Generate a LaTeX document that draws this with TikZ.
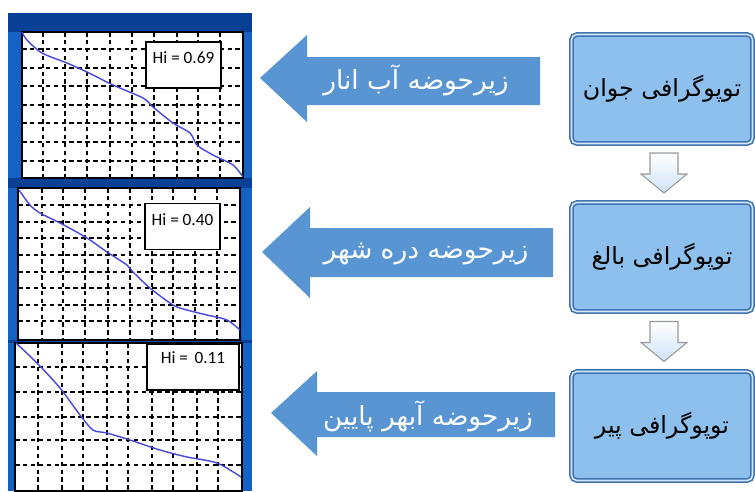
\documentclass[tikz,border=0pt]{standalone}
\usepackage{fontspec}
\setmainfont{Carlito}
\newfontfamily\arabicfont[Script=Arabic]{DejaVu Sans}
\TeXXeTstate=1
\usetikzlibrary{positioning,calc}
\definecolor{navy}{HTML}{0A3F96}
\definecolor{framebl}{HTML}{1463C4}
\definecolor{arrbl}{HTML}{5A95D3}
\definecolor{boxbl}{HTML}{8DC0EC}
\definecolor{boxedge}{HTML}{3F73B2}
\definecolor{curvebl}{HTML}{4848D8}
\definecolor{stepfill}{HTML}{CFE2F7}
\newcommand{\fa}[1]{\arabicfont\beginR #1\endR}

\begin{document}
\begin{tikzpicture}[x=0.02cm, y=-0.02cm,
  chartbg/.style={fill=white, draw=black, line width=0.6pt},
  gridline/.style={black, dashed, dash pattern=on 2.6pt off 1.9pt, line width=0.85pt},
  hicurve/.style={curvebl, line width=0.8pt},
  hibox/.style={draw=black, fill=white, line width=0.8pt, minimum width=1.5cm, minimum height=0.92cm, inner sep=0pt},
  hitext/.style={font=\fontsize{9.8}{11}\selectfont, inner sep=1pt},
  bigarrow/.style={fill=arrbl},
  arrtext/.style={text=white, font=\fontsize{15}{18}\selectfont},
  stage/.style={draw=boxedge, double=boxbl!40!white, double distance=0.9pt, line width=0.9pt,
    rounded corners=3pt, fill=boxbl, minimum width=3.62cm, minimum height=2.18cm,
    font=\fontsize{13.5}{16}\selectfont},
  steparrow/.style={top color=white, bottom color=stepfill, draw=gray!80, line width=0.6pt}]
  \useasboundingbox (0,0) rectangle (755,491);
  % left panel: three hypsometric curves
  \fill[framebl] (8,13) rectangle (252,491);
  \fill[navy] (8,13) rectangle (252,32);
  \fill[navy] (8,178) rectangle (252,188);
  \fill[navy] (8,340) rectangle (252,343);
  \draw[chartbg] (22,32) rectangle (243,178);
  \draw[chartbg] (18,188) rectangle (240,340);
  \draw[chartbg] (15,343) rectangle (242,491);
  \foreach \x in {43,65,87,110,132,154,177,198,220} {\draw[gridline] (\x,32) -- (\x,178);}
  \foreach \y in {49,68,86,105,123,142,161} {\draw[gridline] (22,\y) -- (243,\y);}
  \foreach \x in {42,63,85,108,130,152,173,195,217} {\draw[gridline] (\x,188) -- (\x,340);}
  \foreach \y in {205,222,238,255,272,288,305,321} {\draw[gridline] (18,\y) -- (240,\y);}
  \foreach \x in {38,62,83,107,128,152,173,197,218} {\draw[gridline] (\x,343) -- (\x,491);}
  \foreach \y in {367,392,417,440,465} {\draw[gridline] (15,\y) -- (242,\y);}
  \draw[hicurve] plot[smooth] coordinates {(22,32) (27,40) (42,53) (67,63) (87,72) (113,85) (143,98) (153,107)
    (173,123) (190,133) (197,145) (213,155) (233,165) (243,177)};
  \draw[hicurve] plot[smooth] coordinates {(19,190) (30,205) (40,213) (60,223) (87,238) (107,252) (127,265)
    (133,272) (150,288) (173,305) (187,310) (207,315) (227,320) (240,330)};
  \draw[hicurve] plot[smooth] coordinates {(16,343) (37,363) (60,388) (80,415) (93,430) (107,433) (130,440)
    (160,450) (187,457) (217,463) (241,477)};
  \node[hibox] (hiA) at (183.5,65) {};
  \node[hitext, below=0.17cm of hiA.north] (hiAtxt) {Hi = 0.69};
  \node[hibox] (hiB) at (182.5,226.5) {};
  \node[hitext, below=0.17cm of hiB.north] (hiBtxt) {Hi = 0.40};
  \node[hibox, minimum width=1.84cm] (hiC) at (193,367) {};
  \node[hitext, below=0.13cm of hiC.north] (hiCtxt) {Hi =\ \,0.11};
  % big arrows pointing at the curves
  \fill[bigarrow] (540,57) -- (307,57) -- (307,35) -- (260,78) -- (307,122) -- (307,105) -- (540,105) -- cycle;
  \node[arrtext] (subA) at (416,80) {\fa{زیرحوضه آب انار}};
  \fill[bigarrow] (553,228) -- (310,228) -- (310,207) -- (262,252) -- (310,298) -- (310,277) -- (553,277) -- cycle;
  \node[arrtext] (subB) at (426,254) {\fa{زیرحوضه دره شهر}};
  \fill[bigarrow] (555,392) -- (317,392) -- (317,371) -- (271,413) -- (317,456) -- (317,437) -- (555,437) -- cycle;
  \node[arrtext] (subC) at (428,416) {\fa{زیرحوضه آبهر پایین}};
  % stages of topography
  \node[stage] (young) at (662,89) {\fa{توپوگرافی جوان}};
  \node[stage] (adult) at (662,257) {\fa{توپوگرافی بالغ}};
  \node[stage] (old) at (662,426) {\fa{توپوگرافی پیر}};
  \coordinate (s1) at ($(young.south)!0.5!(adult.north)+(2,0)$);
  \coordinate (s2) at ($(adult.south)!0.5!(old.north)+(2,0)$);
  \shade[steparrow] ($(s1)+(-14,-20)$) -- ++(28,0) -- ++(0,21) -- ++(9,0) -- ($(s1)+(0,20)$)
    -- ($(s1)+(-23,1)$) -- ++(9,0) -- cycle;
  \shade[steparrow] ($(s2)+(-14,-20)$) -- ++(28,0) -- ++(0,21) -- ++(9,0) -- ($(s2)+(0,20)$)
    -- ($(s2)+(-23,1)$) -- ++(9,0) -- cycle;
\end{tikzpicture}
\end{document}
